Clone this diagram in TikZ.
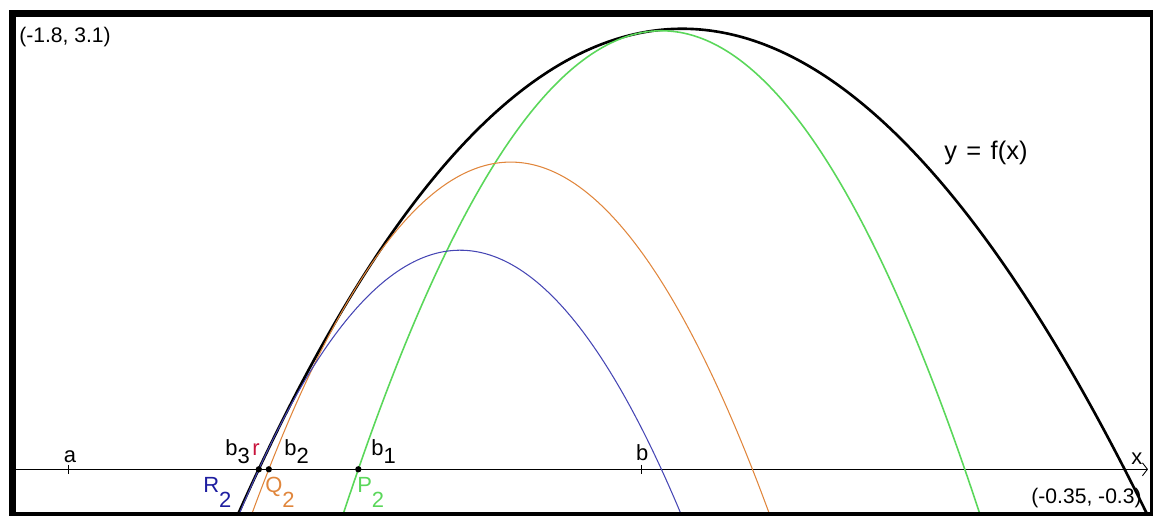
\documentclass[tikz,border=0pt]{standalone}
\usepackage{fontspec}
\setmainfont{Liberation Sans}
\usepackage{tikz}
\usetikzlibrary{arrows.meta}
\newcommand{\bsub}[1]{b\raisebox{-4.5pt}{#1}}
\newcommand{\lowsub}[1]{\raisebox{-8.5pt}{#1}}
\definecolor{iterblue}{HTML}{4646B4}
\definecolor{iterbluedark}{HTML}{1E1EA0}
\definecolor{iterorange}{HTML}{E0863C}
\definecolor{itergreen}{HTML}{5AD75A}
\definecolor{rootred}{HTML}{C8143C}
\tikzset{
  fcurve/.style={line width=1.5pt, black},
  pcurve/.style={line width=0.9pt, itergreen},
  qcurve/.style={line width=0.6pt, iterorange},
  rcurve/.style={line width=0.6pt, iterblue},
  xaxis/.style={line width=0.5pt, -{Straight Barb[length=1mm, width=2.6mm]}},
  axtick/.style={line width=0.6pt},
  rootdot/.style={circle, fill=black, inner sep=0pt, minimum size=3.6pt},
  lbl/.style={inner sep=0pt, font=\fontsize{12.5}{15}\selectfont},
  cornerlbl/.style={inner sep=0pt, font=\fontsize{12}{14}\selectfont},
  declare function={
    f(\x)=2.992+(\x+1)*(1.045+(\x+1)*(-9.98+0.77*(\x+1)));
    fd(\x)=1.045+(\x+1)*(-19.96+2.31*(\x+1));
    fdd(\x)=-19.96+5.6*(\x+1);
    T(\x,\c)=f(\c)+(\x-\c)*(fd(\c)+fdd(\c)*(\x-\c));
  }
}

\begin{document}
\begin{tikzpicture}[x=15.628cm, y=2.918cm]
  \useasboundingbox (-1.82048,-0.32010) rectangle (-0.34490,3.21660);
  \begin{scope}
    \clip (-1.8045,-0.3167) rectangle (-0.3443,3.124);
    \coordinate (xl) at (-1.8045,0);
    \coordinate (xr) at (-0.3513,0);
    \draw[xaxis] (xl) -- (xr);
    \draw[fcurve] plot[domain=-1.53:-0.33, samples=150, smooth] (\x,{f(\x)});
    \draw[pcurve] plot[domain=-1.39:-0.56, samples=120, smooth] (\x,{T(\x,-1)});
    \draw[qcurve] plot[domain=-1.505:-0.82, samples=120, smooth] (\x,{T(\x,-1.36187)});
    \draw[rcurve] plot[domain=-1.52:-0.94, samples=120, smooth] (\x,{T(\x,-1.47643)});
  \end{scope}
  \draw[line width=0.14cm] (-1.80448,-0.31666) rectangle (-0.34428,3.1240);
  % a and b on the axis
  \draw[axtick] (-1.7330,0.03) -- (-1.7330,-0.035);
  \draw[axtick] (-1,0.03) -- (-1,-0.035);
  \node[lbl, anchor=base] (alab) at (-1.7309,0.050) {a};
  \node[lbl, anchor=base] (blab) at (-0.9985,0.0637) {b};
  % iterates
  \node[rootdot] (b3) at (-1.48923,0) {};
  \node[rootdot] (b2) at (-1.47643,0) {};
  \node[rootdot] (b1) at (-1.36187,0) {};
  \node[lbl, anchor=base west] (b3lab) at (-1.53254,0.0912) {\bsub{3}};
  \node[lbl, anchor=base west, text=rootred] (rlab) at (-1.49799,0.0912) {r};
  \node[lbl, anchor=base west] (b2lab) at (-1.45703,0.0912) {\bsub{2}};
  \node[lbl, anchor=base west] (b1lab) at (-1.34569,0.0912) {\bsub{1}};
  \node[lbl, anchor=base west, text=iterbluedark] (R2lab) at (-1.56069,-0.1624) {R\lowsub{2}};
  \node[lbl, anchor=base west, text=iterorange] (Q2lab) at (-1.48135,-0.1624) {Q\lowsub{2}};
  \node[lbl, anchor=base west, text=itergreen] (P2lab) at (-1.36361,-0.1624) {P\lowsub{2}};
  \node[lbl, anchor=base west] (xlab) at (-0.37306,0.0295) {x};
  \node[inner sep=0pt, font=\fontsize{14.5}{17}\selectfont] (flab) at (-0.55866,2.1679) {y\hspace{5.3pt}=\hspace{5.3pt}f(x)};
  \node[cornerlbl, anchor=west] (tl) at (-1.79616,2.963) {(-1.8, 3.1)};
  \node[cornerlbl, anchor=east] (br) at (-0.35902,-0.1967) {(-0.35, -0.3)};
\end{tikzpicture}
\end{document}
